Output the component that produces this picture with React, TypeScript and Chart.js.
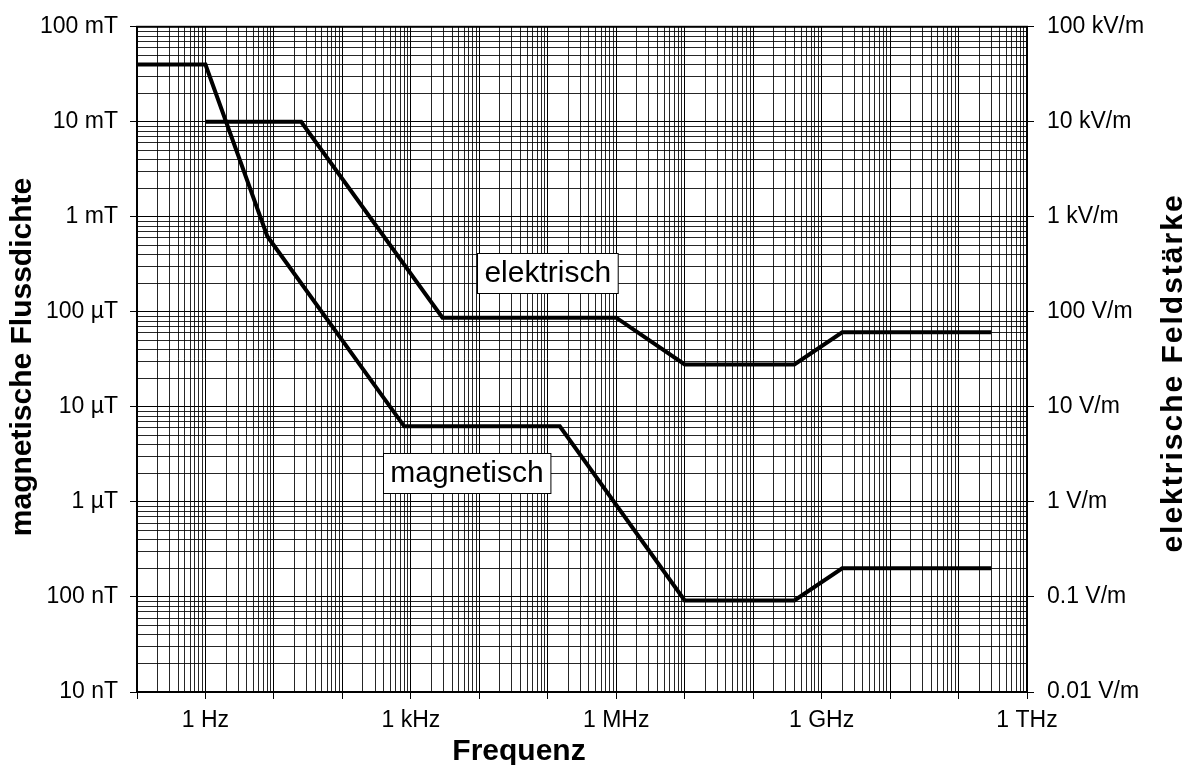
import { useEffect, useRef } from 'react';
import { Chart, registerables } from 'chart.js';

Chart.register(...registerables);

// ---- data ----
const magneticFreq = [0.1, 1, 8, 800, 1.5e5, 1e7, 4e8, 2e9, 3e11];
const magneticFlux = [0.04, 0.04, 6.25e-4, 6.25e-6, 6.25e-6, 9.2e-8, 9.2e-8, 2e-7, 2e-7];

const electricFreq = [1, 25, 2900, 1e6, 1e7, 4e8, 2e9, 3e11];
const electricField = [1e4, 1e4, 87, 87, 28, 28, 61, 61];

const xTickValues = [1, 1e3, 1e6, 1e9, 1e12];
const xTickLabels = ['1 Hz', '1 kHz', '1 MHz', '1 GHz', '1 THz'];

const leftTickValues = [1e-1, 1e-2, 1e-3, 1e-4, 1e-5, 1e-6, 1e-7, 1e-8];
const leftTickLabels = ['100 mT', '10 mT', '1 mT', '100 µT', '10 µT', '1 µT', '100 nT', '10 nT'];

const rightTickValues = [1e5, 1e4, 1e3, 1e2, 1e1, 1, 1e-1, 1e-2];
const rightTickLabels = ['100 kV/m', '10 kV/m', '1 kV/m', '100 V/m', '10 V/m', '1 V/m', '0.1 V/m', '0.01 V/m'];

const seriesLabels = ['elektrisch', 'magnetisch'];
const seriesLabelFreq = [1e5, 6600];
const seriesLabelValue = [259, 2.04e-6];
const seriesLabelAxis = ['y2', 'y'];

const xTitle = 'Frequenz';
const leftTitle = 'magnetische Flussdichte';
const rightTitle = 'elektrische Feldstärke';

const FONT = '"Liberation Sans", Arial, Helvetica, sans-serif';

function isDecade(v: number) {
  const l = Math.log10(v);
  return Math.abs(l - Math.round(l)) < 1e-6;
}

function logTicks(minExp: number, maxExp: number, minor: boolean) {
  const out: { value: number }[] = [];
  for (let e = minExp; e <= maxExp; e++) {
    for (let k = 1; k <= 9; k++) {
      if (e === maxExp && k > 1) break;
      if (!minor && k > 1) break;
      out.push({ value: parseFloat(`${k}e${e}`) });
    }
  }
  return out;
}

function lookup(values: number[], labels: string[], v: number) {
  for (let i = 0; i < values.length; i++) {
    if (Math.abs(Math.log10(values[i]) - Math.log10(v)) < 1e-6) return labels[i];
  }
  return '';
}

const gridColor = (ctx: any) => (ctx.tick && isDecade(ctx.tick.value) ? '#000000' : 'rgba(0,0,0,0.85)');
const tickColor = (ctx: any) => (ctx.tick && isDecade(ctx.tick.value) ? '#000000' : 'rgba(0,0,0,0)');

const overlayPlugin = {
  id: 'overlay',
  beforeDatasetsDraw(chart: any) {
    const { ctx, chartArea: a } = chart;
    ctx.save();
    ctx.strokeStyle = '#000';
    ctx.lineWidth = 2;
    ctx.strokeRect(a.left, a.top, a.right - a.left, a.bottom - a.top);
    ctx.restore();
  },
  afterDatasetsDraw(chart: any) {
    const { ctx } = chart;
    ctx.save();
    ctx.font = `30px ${FONT}`;
    ctx.textAlign = 'center';
    ctx.textBaseline = 'middle';
    for (let i = 0; i < seriesLabels.length; i++) {
      const px = chart.scales.x.getPixelForValue(seriesLabelFreq[i]);
      const py = chart.scales[seriesLabelAxis[i]].getPixelForValue(seriesLabelValue[i]);
      const w = ctx.measureText(seriesLabels[i]).width + 14;
      const h = 40;
      const x0 = Math.round(px - w / 2) + 0.5;
      const y0 = Math.round(py - h / 2) + 0.5;
      ctx.fillStyle = '#fff';
      ctx.fillRect(x0, y0, w, h);
      ctx.strokeStyle = '#000';
      ctx.lineWidth = 1;
      ctx.strokeRect(x0, y0, w, h);
      ctx.fillStyle = '#000';
      ctx.fillText(seriesLabels[i], px, py + 1);
    }
    ctx.restore();
  },
  afterDraw(chart: any) {
    const { ctx } = chart;
    ctx.save();
    ctx.fillStyle = '#000';
    ctx.font = `bold 30px ${FONT}`;
    ctx.textAlign = 'center';
    ctx.textBaseline = 'alphabetic';
    ctx.fillText(xTitle, 519, 760);
    ctx.save();
    ctx.translate(31, 357);
    ctx.rotate(-Math.PI / 2);
    ctx.fillText(leftTitle, 0, 0);
    ctx.restore();
    ctx.save();
    ctx.translate(1182, 373);
    ctx.rotate(-Math.PI / 2);
    try { (ctx as any).letterSpacing = '2px'; } catch (e) { /* ignore */ }
    ctx.fillText(rightTitle, 0, 0);
    ctx.restore();
    ctx.restore();
  },
};

export default function App() {
  const canvasRef = useRef<HTMLCanvasElement | null>(null);

  useEffect(() => {
    if (!canvasRef.current) return;
    const chart = new Chart(canvasRef.current, {
      type: 'line',
      data: {
        datasets: [
          {
            label: 'magnetisch',
            data: magneticFreq.map((f, i) => ({ x: f, y: magneticFlux[i] })),
            yAxisID: 'y',
            borderColor: '#000',
            borderWidth: 4,
            pointRadius: 0,
            tension: 0,
            fill: false,
          },
          {
            label: 'elektrisch',
            data: electricFreq.map((f, i) => ({ x: f, y: electricField[i] })),
            yAxisID: 'y2',
            borderColor: '#000',
            borderWidth: 4,
            pointRadius: 0,
            tension: 0,
            fill: false,
          },
        ],
      },
      options: {
        animation: false,
        responsive: true,
        maintainAspectRatio: false,
        layout: { padding: { top: 25, left: 0, right: 0, bottom: 0 } },
        plugins: { legend: { display: false }, tooltip: { enabled: false } },
        scales: {
          x: {
            type: 'logarithmic',
            position: 'bottom',
            min: 0.1,
            max: 1e12,
            afterBuildTicks: (s: any) => { s.ticks = logTicks(-1, 12, true); },
            afterFit: (s: any) => { s.height = 73; },
            ticks: {
              autoSkip: false,
              maxRotation: 0,
              minRotation: 0,
              padding: 8,
              color: '#000',
              font: { family: FONT, size: 23 },
              callback: (v: any) => lookup(xTickValues, xTickLabels, Number(v)),
            },
            grid: { color: gridColor, tickColor, lineWidth: 1, tickLength: 7, drawTicks: true },
            border: { display: true, color: '#000', width: 2 },
          },
          y: {
            type: 'logarithmic',
            position: 'left',
            min: 1e-8,
            max: 1e-1,
            afterBuildTicks: (s: any) => { s.ticks = logTicks(-8, -1, true); },
            afterFit: (s: any) => { s.width = 137; },
            ticks: {
              autoSkip: false,
              padding: 12,
              color: '#000',
              font: { family: FONT, size: 23 },
              callback: (v: any) => lookup(leftTickValues, leftTickLabels, Number(v)),
            },
            grid: { color: gridColor, tickColor, lineWidth: 1, tickLength: 7, drawTicks: true },
            border: { display: true, color: '#000', width: 2 },
          },
          y2: {
            type: 'logarithmic',
            position: 'right',
            min: 1e-2,
            max: 1e5,
            afterBuildTicks: (s: any) => { s.ticks = logTicks(-2, 5, false); },
            afterFit: (s: any) => { s.width = 159; },
            ticks: {
              autoSkip: false,
              padding: 13,
              color: '#000',
              font: { family: FONT, size: 23 },
              callback: (v: any) => lookup(rightTickValues, rightTickLabels, Number(v)),
            },
            grid: { drawOnChartArea: false, color: '#000', tickColor: '#000', lineWidth: 1, tickLength: 7 },
            border: { display: true, color: '#000', width: 2 },
          },
        },
      },
      plugins: [overlayPlugin],
    });
    return () => chart.destroy();
  }, []);

  return (
    <div style={{ position: 'absolute', left: 0, top: 0, width: 1186, height: 765, background: '#fff' }}>
      <canvas ref={canvasRef} />
    </div>
  );
}
